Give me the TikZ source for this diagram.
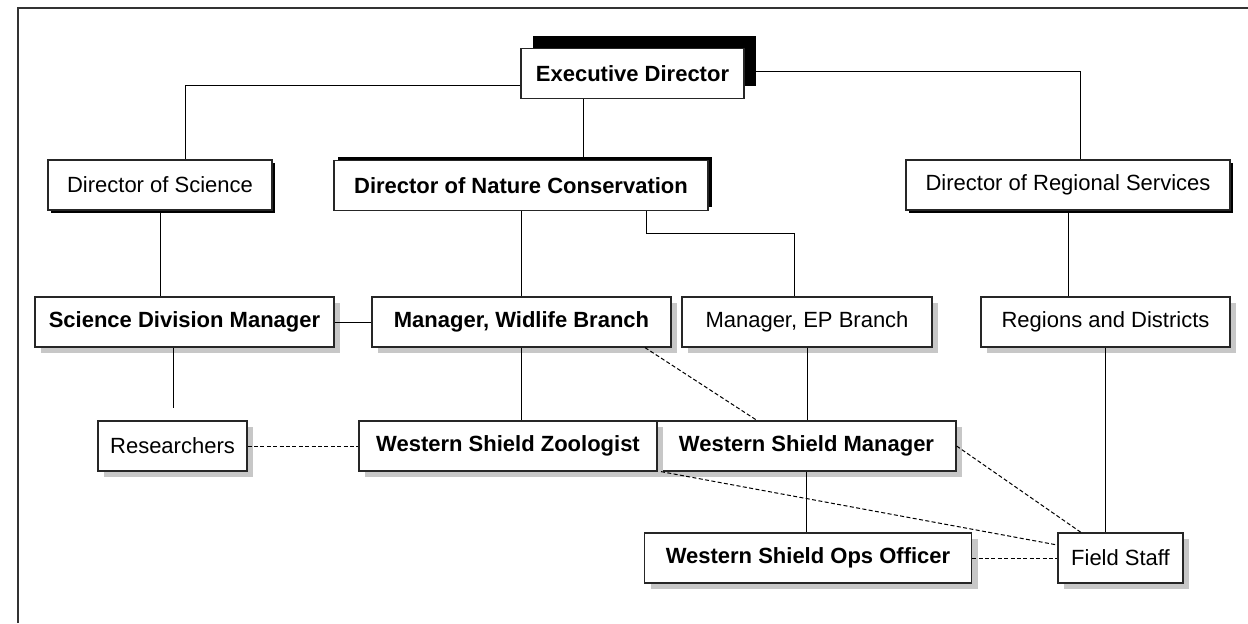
\documentclass[tikz,border=0pt]{standalone}
\usepackage{fontspec}
\setmainfont{Liberation Sans}
\usepackage{tikz}
\usetikzlibrary{shadows,positioning}

\tikzset{
  box/.style={draw=black!85, fill=white, line width=0.6pt, inner sep=0pt,
    minimum height=25pt, font=\fontsize{11}{13}\selectfont},
  boldbox/.style={box, font=\fontsize{11}{13}\selectfont\bfseries},
  topshadow/.style={drop shadow={shadow xshift=6pt, shadow yshift=6.5pt, fill=black, opacity=1}},
  blackshadow/.style={drop shadow={shadow xshift=1.5pt, shadow yshift=-1.5pt, fill=black, opacity=1}},
  upshadow/.style={drop shadow={shadow xshift=1.8pt, shadow yshift=1.8pt, fill=black, opacity=1}},
  grayshadow/.style={drop shadow={shadow xshift=3pt, shadow yshift=-3pt, fill=black!22, opacity=1}},
  link/.style={draw=black, line width=0.5pt},
  dotlink/.style={link, dash pattern=on 2pt off 1.2pt}
}

\begin{document}
\begin{tikzpicture}[x=0.5pt,y=-0.5pt]
   \useasboundingbox (0,0) rectangle (1248,623);
   \draw[line width=0.6pt, black!80] (18,623) -- (18,8) -- (1248,8);

   \node[boldbox, topshadow, minimum width=111.5pt] (ED) at (632.5,73.5) {Executive Director};
   \node[box, blackshadow, minimum width=112pt] (DoS) at (160,185) {Director of Science};
   \node[boldbox, upshadow, minimum width=187pt] (DNC) at (521,185.5) {Director of Nature Conservation};
   \node[box, blackshadow, minimum width=162pt] (DRS) at (1068,185) {Director of Regional Services};

   \node[boldbox, grayshadow, minimum width=149.5pt] (SDM) at (184.5,322) {Science Division Manager};
   \node[boldbox, grayshadow, minimum width=149.5pt] (MWB) at (521.5,322) {Manager, Widlife Branch};
   \node[box, grayshadow, minimum width=125pt] (MEP) at (807,322) {Manager, EP Branch};
   \node[box, grayshadow, minimum width=124.5pt] (RD) at (1105.5,322) {Regions and Districts};

   \node[box, grayshadow, minimum width=74.5pt] (Res) at (172.5,446) {Researchers};
   \node[boldbox, grayshadow, minimum width=149.5pt] (WSM) at (806.5,446) {Western Shield Manager};
   \node[boldbox, grayshadow, minimum width=149pt] (WSZ) at (508,446) {Western Shield Zoologist};
   \node[boldbox, grayshadow, minimum width=163.5pt] (Ops) at (808,558) {Western Shield Ops Officer};
   \node[box, grayshadow, minimum width=62.5pt] (FS) at (1120.5,558) {Field Staff};
   \coordinate (ResEnd) at (173,408);

   \draw[link] (ED.west |- 0,85) -| (185,0 |- DoS.north);
   \draw[link] (ED.east |- 0,71) -| (1080,0 |- DRS.north);
   \draw[link] (583,0 |- ED.south) -- (583,0 |- DNC.north);
   \draw[link] (DoS.south) -- (DoS.south |- SDM.north);
   \draw[link] (DNC.south) -- (DNC.south |- MWB.north);
   \draw[link] (646,0 |- DNC.south) -- (646,233) -| (794,0 |- MEP.north);
   \draw[link] (DRS.south) -- (DRS.south |- RD.north);
   \draw[link] (SDM.east) -- (MWB.west);
   \draw[link] (173,0 |- SDM.south) -- (ResEnd);
   \draw[link] (MWB.south) -- (MWB.south |- WSZ.north);
   \draw[link] (MEP.south) -- (MEP.south |- WSM.north);
   \draw[link] (WSM.south) -- (WSM.south |- Ops.north);
   \draw[link] (RD.south) -- (RD.south |- FS.north);

   \draw[dotlink] (Res.east) -- (WSZ.west);
   \draw[dotlink] (645,0 |- MWB.south) -- (757,0 |- WSM.north);
   \draw[dotlink] (WSM.east) -- (1081,0 |- FS.north);
   \draw[dotlink] (661,0 |- WSZ.south) -- (FS.west |- 0,545);
   \draw[dotlink] (Ops.east) -- (FS.west);
\end{tikzpicture}
\end{document}
